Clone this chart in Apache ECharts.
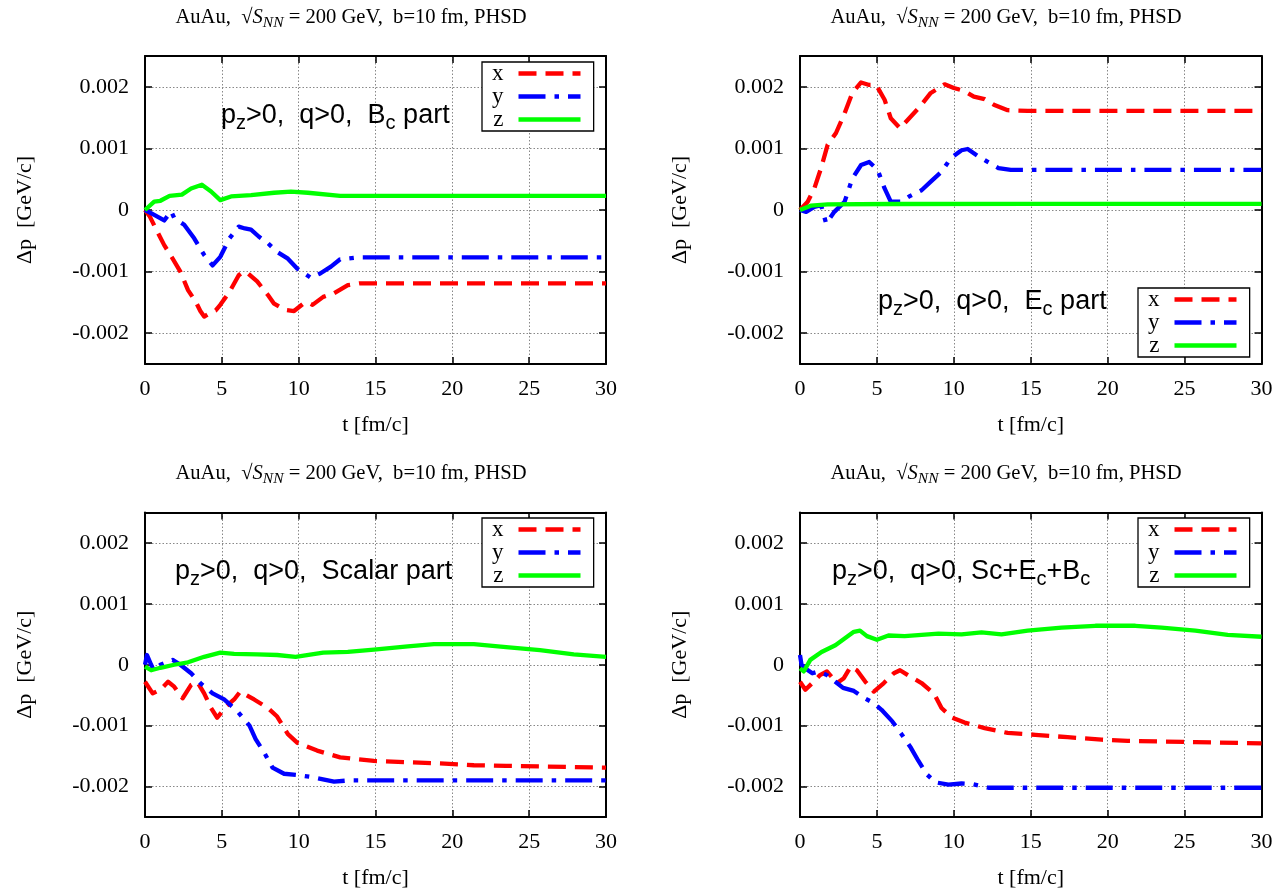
<!DOCTYPE html>
<html>
<head>
<meta charset="utf-8">
<script src="https://cdn.jsdelivr.net/npm/echarts@6/dist/echarts.min.js"></script>
<style>html,body{margin:0;padding:0;background:#fff}#c{width:1286px;height:890px}</style>
</head>
<body>
<div id="c"></div>
<script>
// values in units of 1e-3 GeV/c, t in fm/c
const xTicks = [0, 5, 10, 15, 20, 25, 30];
const seriesNames = ['x', 'y', 'z'];

const bcX = [[0,0],[0.3,-0.1],[0.7,-0.3],[1.25,-0.57],[1.8,-0.79],[2.3,-1.0],[2.8,-1.3],[3.3,-1.49],[3.6,-1.64],[3.85,-1.73],[4.3,-1.66],[4.6,-1.63],[4.9,-1.54],[5.5,-1.33],[6.1,-1.06],[6.4,-1.0],[6.7,-1.03],[7.3,-1.16],[8.0,-1.38],[8.4,-1.52],[9.1,-1.62],[9.7,-1.64],[10.3,-1.52],[10.6,-1.50],[10.9,-1.54],[11.6,-1.41],[12.3,-1.35],[13.2,-1.22],[14.0,-1.19],[20,-1.19],[30,-1.19]];
const bcY = [[0,0],[0.6,-0.08],[1.25,-0.17],[1.7,-0.02],[1.9,-0.13],[2.55,-0.24],[3.2,-0.46],[3.85,-0.73],[4.4,-0.9],[4.9,-0.76],[5.5,-0.46],[6.1,-0.27],[6.5,-0.3],[6.9,-0.32],[7.4,-0.43],[8.0,-0.54],[8.6,-0.68],[9.3,-0.79],[9.9,-0.95],[10.8,-1.1],[11.4,-1.03],[12.1,-0.92],[12.7,-0.8],[13.8,-0.77],[20,-0.77],[30,-0.77]];
const bcZ = [[0,0],[0.6,0.135],[1.0,0.15],[1.6,0.23],[2.4,0.25],[3.0,0.35],[3.7,0.41],[4.3,0.3],[4.9,0.16],[5.6,0.22],[6.9,0.24],[8.4,0.28],[9.5,0.30],[10.6,0.28],[12.7,0.23],[20,0.23],[30,0.23]];

const ecX = [[0,0],[0.5,0.135],[0.93,0.35],[1.37,0.68],[1.8,1.06],[2.34,1.25],[2.9,1.57],[3.4,1.9],[3.97,2.07],[4.5,2.03],[4.95,2.03],[5.5,1.79],[5.9,1.49],[6.5,1.33],[7.1,1.49],[7.8,1.68],[8.5,1.9],[9.4,2.04],[10.0,1.98],[10.7,1.93],[11.3,1.84],[12.0,1.80],[12.6,1.71],[13.5,1.62],[14.8,1.61],[20,1.61],[30,1.61]];
const ecY = [[0,0],[0.4,-0.03],[0.93,0.05],[1.37,0.08],[1.7,-0.22],[2.23,-0.03],[2.9,0.135],[3.4,0.51],[3.97,0.73],[4.5,0.78],[5.05,0.65],[5.5,0.35],[5.9,0.135],[6.57,0.135],[7.1,0.22],[7.9,0.32],[8.5,0.46],[9.2,0.62],[9.8,0.84],[10.5,0.97],[10.9,0.99],[11.6,0.87],[12.2,0.78],[12.9,0.68],[13.7,0.65],[20,0.65],[30,0.65]];
const ecZ = [[0,0],[0.7,0.07],[1.8,0.09],[6,0.097],[15,0.1],[30,0.1]];

const scX = [[0,-0.28],[0.5,-0.47],[1.0,-0.41],[1.5,-0.28],[1.9,-0.36],[2.45,-0.55],[3.0,-0.33],[3.4,-0.28],[3.85,-0.47],[4.3,-0.71],[4.7,-0.87],[5.3,-0.68],[5.8,-0.57],[6.2,-0.44],[7.1,-0.57],[8.0,-0.71],[8.6,-0.85],[9.3,-1.14],[9.9,-1.28],[11.2,-1.41],[12.7,-1.52],[14.9,-1.58],[17.1,-1.6],[19.2,-1.62],[21.4,-1.65],[23.5,-1.66],[25.7,-1.67],[30,-1.69]];
const scY = [[0,0],[0.13,0.16],[0.4,0],[0.6,-0.11],[1.0,0],[1.8,0.08],[2.3,0],[3.0,-0.14],[3.6,-0.3],[4.4,-0.47],[5.15,-0.57],[6.0,-0.76],[6.8,-1.0],[7.2,-1.22],[7.75,-1.44],[8.3,-1.69],[9.05,-1.79],[9.9,-1.81],[11.0,-1.85],[12.3,-1.92],[13.2,-1.90],[20,-1.9],[30,-1.9]];
const scZ = [[0,-0.03],[0.4,-0.09],[1.0,-0.05],[1.9,0],[2.8,0.04],[3.85,0.13],[4.9,0.2],[5.8,0.18],[7.3,0.17],[8.6,0.16],[9.8,0.13],[11.6,0.2],[13.2,0.21],[14.9,0.25],[17.1,0.30],[18.8,0.34],[21.4,0.34],[23.5,0.29],[25.7,0.24],[27.9,0.17],[30,0.13]];

const smX = [[0,-0.28],[0.35,-0.41],[0.8,-0.3],[1.3,-0.17],[1.75,-0.11],[2.4,-0.3],[2.85,-0.22],[3.3,-0.03],[3.7,-0.09],[4.25,-0.28],[4.8,-0.44],[5.45,-0.3],[6.1,-0.14],[6.5,-0.09],[7.2,-0.2],[7.9,-0.3],[8.7,-0.47],[9.2,-0.71],[9.9,-0.87],[10.7,-0.95],[12.0,-1.04],[13.5,-1.12],[15.3,-1.15],[17.4,-1.19],[19.6,-1.23],[21.3,-1.25],[23.5,-1.26],[25.7,-1.27],[30,-1.29]];
const smY = [[0,0.16],[0.1,0],[0.35,-0.06],[0.8,-0.14],[1.2,-0.11],[1.75,-0.17],[2.3,-0.28],[2.8,-0.38],[3.5,-0.43],[4.2,-0.55],[4.8,-0.63],[5.3,-0.74],[6.0,-0.93],[6.6,-1.14],[7.2,-1.36],[7.7,-1.58],[8.25,-1.8],[8.8,-1.93],[9.65,-1.97],[10.5,-1.95],[11.2,-1.96],[12.25,-2.02],[13.8,-2.02],[20,-2.02],[30,-2.02]];
const smZ = [[0,-0.06],[0.24,-0.11],[0.67,0.08],[1.4,0.21],[2.3,0.32],[2.9,0.43],[3.5,0.54],[3.9,0.56],[4.35,0.47],[5.0,0.41],[5.75,0.48],[6.8,0.47],[9.0,0.51],[10.5,0.5],[11.8,0.53],[13.1,0.5],[14.8,0.56],[17,0.61],[19.2,0.64],[21.8,0.64],[23.5,0.61],[25.7,0.56],[27.8,0.49],[30,0.46]];

const panelData = [[bcX, bcY, bcZ], [ecX, ecY, ecZ], [scX, scY, scZ], [smX, smY, smZ]];

const colors = ['#ff0000', '#0000ff', '#00ff00'];
const dashes = [[18, 9], [27, 9, 4.5, 9], 'solid'];
const SERIF = 'Liberation Serif';
const SANS = 'Liberation Sans';

const grids = [
  {left: 145, top: 56, width: 461, height: 308},
  {left: 800, top: 56, width: 461.5, height: 308},
  {left: 145, top: 512.5, width: 461, height: 307.5},
  {left: 800, top: 512.5, width: 461.5, height: 307.5}
];
const legendPos = [[482, 62], [1138, 288], [482, 518], [1138, 518]];
const labelPos = [[221, 116], [878, 302], [175, 572], [832, 572]];
const titlePos = [[351, 18], [1006, 18], [351, 474], [1006, 474]];

const subTexts = [
  '{a|p}{s|z}{a|>0,  q>0,  B}{s|c}{a| part}',
  '{a|p}{s|z}{a|>0,  q>0,  E}{s|c}{a| part}',
  '{a|p}{s|z}{a|>0,  q>0,  Scalar part}',
  '{a|p}{s|z}{a|>0,  q>0, Sc+E}{s|c}{a|+B}{s|c}'
];

const axisLineStyle = {color: '#000', width: 2};
const tickStyle = {show: true, inside: true, length: 7, lineStyle: {color: '#000', width: 1.5}};
const gridLine = {show: true, lineStyle: {color: '#888', width: 1, type: [1.5, 2]}};

const xAxis = [], yAxis = [], series = [], legend = [], graphic = [];
grids.forEach((g, i) => {
  xAxis.push({
    gridIndex: i, type: 'value', min: xTicks[0], max: xTicks[xTicks.length - 1], interval: xTicks[1] - xTicks[0],
    position: 'bottom', axisLine: {show: true, onZero: false, lineStyle: axisLineStyle},
    axisTick: tickStyle, splitLine: gridLine,
    axisLabel: {color: '#000', fontFamily: SERIF, fontSize: 22, margin: 14},
    name: 't [fm/c]', nameLocation: 'middle', nameGap: 50,
    nameTextStyle: {color: '#000', fontFamily: SERIF, fontSize: 22}
  });
  xAxis.push({
    gridIndex: i, type: 'value', min: xTicks[0], max: xTicks[xTicks.length - 1], interval: xTicks[1] - xTicks[0],
    position: 'top', axisLine: {show: true, onZero: false, lineStyle: axisLineStyle},
    axisTick: tickStyle, splitLine: {show: false}, axisLabel: {show: false}
  });
  yAxis.push({
    gridIndex: i, type: 'value', min: -2.5, max: 2.5, splitNumber: 5,
    position: 'left', axisLine: {show: true, onZero: false, lineStyle: axisLineStyle},
    axisTick: tickStyle, splitLine: gridLine,
    axisLabel: {color: '#000', fontFamily: SERIF, fontSize: 22, margin: 16,
      showMinLabel: false, showMaxLabel: false,
      formatter: v => (Math.abs(v) < 1e-9 ? '0' : (v / 1000).toFixed(3))},
    name: 'Δp  [GeV/c]', nameLocation: 'middle', nameGap: 109, nameRotate: 90,
    nameTextStyle: {color: '#000', fontFamily: SERIF, fontSize: 22}
  });
  yAxis.push({
    gridIndex: i, type: 'value', min: -2.5, max: 2.5, splitNumber: 5,
    position: 'right', axisLine: {show: true, onZero: false, lineStyle: axisLineStyle},
    axisTick: tickStyle, splitLine: {show: false}, axisLabel: {show: false}
  });
  panelData[i].forEach((d, k) => {
    series.push({
      type: 'line', name: seriesNames[k], xAxisIndex: 2 * i, yAxisIndex: 2 * i,
      data: d, symbol: 'none', smooth: false,
      lineStyle: {color: colors[k], width: 4.3, type: dashes[k], cap: 'butt', join: 'round'},
      itemStyle: {color: colors[k]}, z: 3 + k
    });
  });
  legend.push({
    data: seriesNames, orient: 'vertical', left: legendPos[i][0], top: legendPos[i][1],
    align: 'right', itemWidth: 62, itemHeight: 14, itemGap: 0,
    padding: [0, 11, 0, 10], borderColor: '#000', borderWidth: 1.3, borderRadius: 0,
    backgroundColor: '#fff', selectedMode: false,
    itemStyle: {color: 'rgba(0,0,0,0)', borderWidth: 0, opacity: 0},
    lineStyle: {width: 4.3},
    textStyle: {fontFamily: SERIF, fontSize: 23, color: '#000', padding: [0, 10, 0, 0]}
  });
  graphic.push({
    type: 'text', x: labelPos[i][0], y: labelPos[i][1], z: 100,
    style: {
      text: subTexts[i], align: 'left', verticalAlign: 'middle',
      rich: {
        a: {fontFamily: SANS, fontSize: 27, color: '#000', lineHeight: 30},
        s: {fontFamily: SANS, fontSize: 20, color: '#000', lineHeight: 20, padding: [14, 0, 0, 0]}
      }
    }
  });
  graphic.push({
    type: 'text', x: titlePos[i][0], y: titlePos[i][1], z: 100,
    style: {
      text: '{r|AuAu,  √}{i|S}{n|NN}{r| = 200 GeV,  b=10 fm, PHSD}', align: 'center', verticalAlign: 'middle',
      rich: {
        r: {fontFamily: SERIF, fontSize: 20.6, color: '#000', lineHeight: 22},
        i: {fontFamily: SERIF, fontSize: 20.6, fontStyle: 'italic', color: '#000', lineHeight: 22},
        n: {fontFamily: SERIF, fontSize: 15.5, fontStyle: 'italic', color: '#000', lineHeight: 15, padding: [10, 0, 0, 0]}
      }
    }
  });
});

const chart = echarts.init(document.getElementById('c'), null, {renderer: 'canvas'});
chart.setOption({
  backgroundColor: '#fff', animation: false,
  grid: grids.map(g => Object.assign({containLabel: false}, g)),
  xAxis, yAxis, series, legend, graphic
});
</script>
</body>
</html>
